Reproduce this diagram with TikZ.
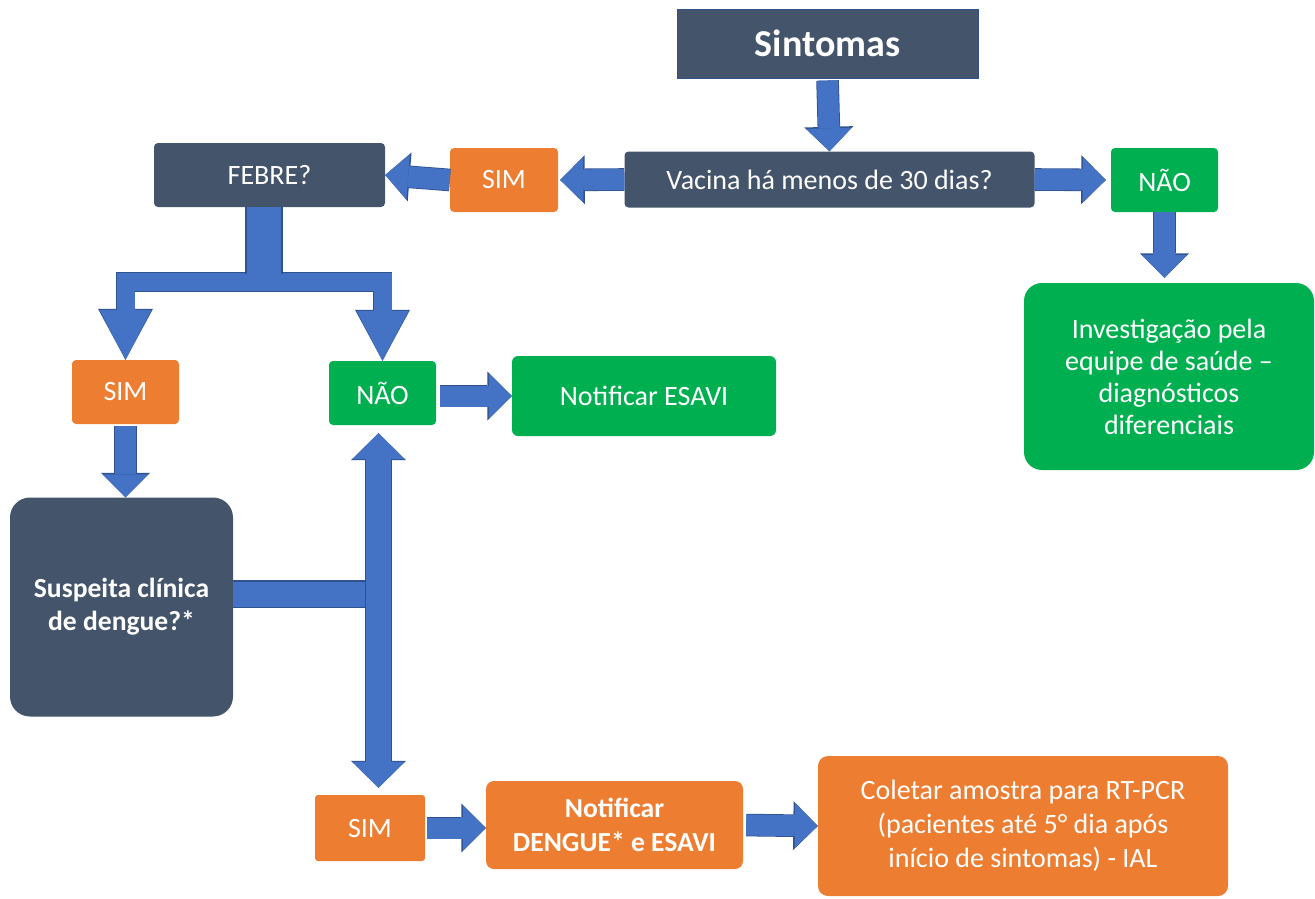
\documentclass[tikz,border=0pt]{standalone}
\usepackage{fontspec}
\setmainfont{Carlito}
\usetikzlibrary{arrows.meta}
\definecolor{slate}{HTML}{44546A}
\definecolor{orng}{HTML}{ED7D31}
\definecolor{grn}{HTML}{00B050}
\definecolor{arrowblue}{HTML}{4472C4}
\definecolor{arrowline}{HTML}{2F528F}
\tikzstyle{box}=[rectangle,rounded corners=4pt,text=white,align=center,inner sep=0pt,font=\fontsize{28}{32}\selectfont]
\tikzstyle{ask}=[box,fill=slate]
\tikzstyle{sim}=[box,fill=orng]
\tikzstyle{nao}=[box,fill=grn]
\tikzstyle{flow}=[draw=arrowblue,line width=21pt,-{Triangle[length=23pt,width=45pt,line width=0pt]},
  preaction={draw=arrowline,line width=22.6pt,-{Triangle[length=24.5pt,width=49pt,line width=0pt]}}]
\tikzstyle{fork}=[draw=arrowblue,line width=18pt,line join=miter,{Triangle[length=50pt,width=52pt,line width=0pt]}-{Triangle[length=50pt,width=52pt,line width=0pt]},
  preaction={draw=arrowline,line width=19.6pt,{Triangle[length=51pt,width=55pt,line width=0pt]}-{Triangle[length=51pt,width=55pt,line width=0pt]}}]
\tikzstyle{both}=[draw=arrowblue,line width=25pt,{Triangle[length=26pt,width=52pt,line width=0pt]}-{Triangle[length=26pt,width=52pt,line width=0pt]},
  preaction={draw=arrowline,line width=26.6pt,{Triangle[length=27pt,width=55pt,line width=0pt]}-{Triangle[length=27pt,width=55pt,line width=0pt]}}]
\tikzstyle{stem}=[draw=arrowblue,preaction={draw=arrowline,line width=\pgflinewidth+1.6pt}]

\begin{document}
\begin{tikzpicture}[x=1pt,y=-1pt]
    \useasboundingbox (0,0) rectangle (1315,898);
    % First we draw the boxes
    \node[ask,rounded corners=0pt,draw=arrowline,line width=1pt,minimum width=301pt,minimum height=69pt,font=\fontsize{38}{40}\selectfont\bfseries] (sint) at (827.5,43.5) {Sintomas};
    \node[ask,minimum width=410pt,minimum height=56pt] (vac) at (829.5,179.5) {Vacina há menos de 30 dias?};
    \node[nao,minimum width=107pt,minimum height=64pt] (naoA) at (1164.5,180) {NÃO};
    \node[nao,rounded corners=18pt,minimum width=290pt,minimum height=187pt] (inv) at (1169,376.5) {Investigação pela\\equipe de saúde –\\diagnósticos\\diferenciais};
    \node[sim,minimum width=108pt,minimum height=64pt] (simA) at (504,180) {SIM};
    \node[ask,minimum width=231pt,minimum height=64pt] (febre) at (269.5,175) {FEBRE?};
    \node[sim,minimum width=107pt,minimum height=64pt] (simL) at (125.5,392) {SIM};
    \node[nao,minimum width=107pt,minimum height=64pt] (naoM) at (382.5,393) {NÃO};
    \node[nao,rounded corners=6pt,minimum width=264pt,minimum height=80pt] (notE) at (644,396) {Notificar ESAVI};
    \node[ask,rounded corners=20pt,minimum width=223pt,minimum height=219pt,font=\fontsize{27.6}{33}\selectfont\bfseries] (susp) at (121.5,607) {Suspeita clínica\\de dengue?*};
    \node[sim,rounded corners=3pt,minimum width=110pt,minimum height=66pt] (simB) at (370,828) {SIM};
    \node[sim,rounded corners=8pt,minimum width=257pt,minimum height=88pt,font=\fontsize{27.6}{34}\selectfont\bfseries] (notD) at (614.5,825) {Notificar\\DENGUE* e ESAVI};
    \node[sim,rounded corners=10pt,minimum width=410pt,minimum height=140pt,font=\fontsize{28}{34}\selectfont] (col) at (1023,826) {Coletar amostra para RT-PCR\\(pacientes até 5° dia após\\início de sintomas) - IAL};

    % Then the block arrows between them
    \draw[flow,shorten <=2pt] (sint.south) -- (vac.north);
    \draw[flow,shorten >=5pt] (vac.east) -- (naoA.west);
    \draw[flow,shorten >=2pt] (vac.west) -- (simA.east);
    \draw[flow] (simA.west) -- (febre.east);
    \draw[flow,shorten >=5pt] (naoA.south) -- (naoA.south |- inv.north);
    \draw[flow,shorten <=2pt] (simL.south) -- (simL.south |- susp.north);
    \draw[flow,shorten <=4pt] (naoM.east |- notE.west) -- (notE.west);
    \draw[flow,shorten <=2pt] (simB.east) -- (simB.east -| notD.west);
    \draw[flow,shorten <=3pt] (notD.east) -- (col.west);

    % Fork below FEBRE?
    \coordinate (fk) at (264,282);
    \coordinate (fs) at (264,274);
    \draw[fork] (simL.north) |- (fk) -| (naoM.north);
    \draw[stem,line width=34pt] (fk |- febre.south) -- (fs);

    % Suspeita joins the two-way arrow
    \coordinate (dj) at (378.5,594);
    \draw[stem,line width=25pt] (susp.east |- dj) -- (dj);
    \draw[both,shorten <=8pt,shorten >=7pt] (dj |- naoM.south) -- (dj |- simB.north);
\end{tikzpicture}
\end{document}
